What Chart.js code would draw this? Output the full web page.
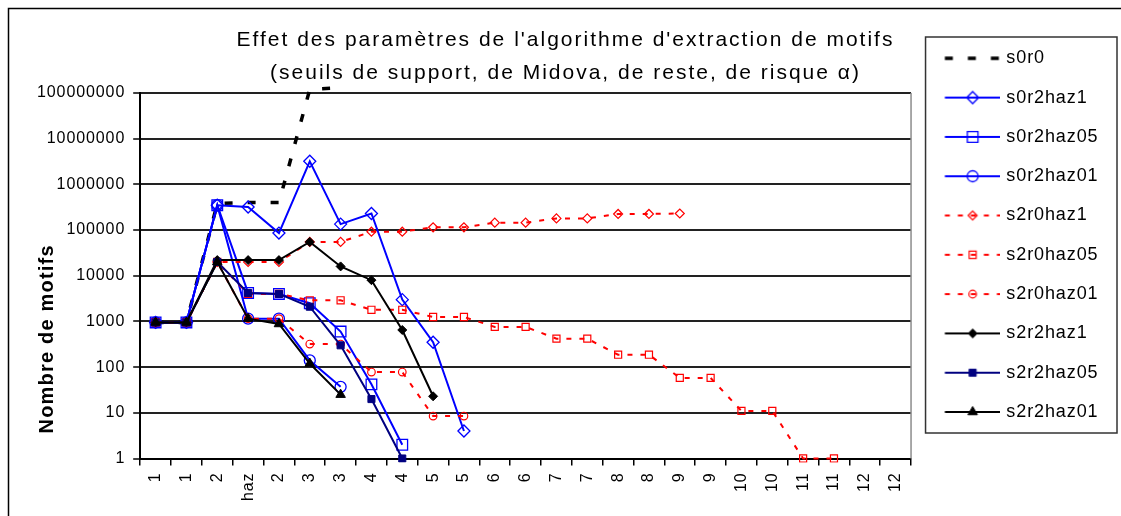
<!DOCTYPE html>
<html><head><meta charset="utf-8">
<script src="https://cdn.jsdelivr.net/npm/chart.js@4.4.1/dist/chart.umd.min.js"></script>
<style>html,body{margin:0;padding:0;background:#fff;}canvas{display:block;}</style>
</head><body>
<canvas id="c" width="1121" height="516"></canvas>
<script>
// ---------- data ----------
const categories = ['1','1','2','haz','2','3','3','4','4','5','5','6','6','7','7','8','8','9','9','10','10','11','11','12','12'];
const yTickValues = [1, 10, 100, 1000, 10000, 100000, 1000000, 10000000, 100000000];
const yTickLabels = ['1','10','100','1000','10000','100000','1000000','10000000','100000000'];
const titleLines = ["Effet des paramètres de l'algorithme d'extraction de motifs", "(seuils de support, de Midova, de reste, de risque \u03B1)"];
const yTitle = 'Nombre de motifs';
const seriesNames = ['s0r0','s0r2haz1','s0r2haz05','s0r2haz01','s2r0haz1','s2r0haz05','s2r0haz01','s2r2haz1','s2r2haz05','s2r2haz01'];

const s0r0      = [950, 950, 380000, 400000, 400000, 120000000, 130000000];
const s0r2haz1  = [950, 950, 350000, 320000, 86000, 3200000, 135000, 230000, 3000, 350, 4];
const s0r2haz05 = [950, 950, 350000, 4200, 4000, 2500, 600, 42, 2];
const s0r2haz01 = [950, 950, 350000, 1150, 1150, 140, 37];
const s2r0haz1  = [950, 950, 20000, 20000, 20000, 55000, 55000, 92000, 92000, 115000, 115000, 145000, 145000, 180000, 180000, 225000, 225000, 230000];
const s2r0haz05 = [950, 950, 20000, 4000, 4000, 2900, 2900, 1800, 1800, 1250, 1250, 760, 760, 420, 420, 187, 187, 58, 58, 11, 11, 1, 1];
const s2r0haz01 = [950, 950, 20000, 1150, 1150, 320, 320, 78, 78, 8.5, 8.5];
const s2r2haz1  = [950, 950, 22000, 22000, 22000, 55000, 16000, 8000, 650, 23];
const s2r2haz05 = [950, 950, 20000, 4200, 4000, 2100, 300, 20, 1];
const s2r2haz01 = [950, 950, 20000, 1150, 880, 120, 25];

const seriesValues = [s0r0, s0r2haz1, s0r2haz05, s0r2haz01, s2r0haz1, s2r0haz05, s2r0haz01, s2r2haz1, s2r2haz05, s2r2haz01];

// ---------- styles ----------
const FONT = '"Liberation Sans", Arial, sans-serif';
const BLUE = '#0000FF', NAVY = '#000080', RED = '#FF0000', BLACK = '#000000';
const styles = [
  {color: BLACK, width: 3.5, dash: [8, 15], point: false, radius: 0},
  {color: BLUE, width: 2, dash: [], point: 'rectRot', radius: 6, fill: 'rgba(0,0,0,0)', bw: 1.3},
  {color: BLUE, width: 2, dash: [], point: 'rect', radius: 7.5, fill: 'rgba(0,0,0,0)', bw: 1.3},
  {color: BLUE, width: 2, dash: [], point: 'circle', radius: 5.5, fill: 'rgba(0,0,0,0)', bw: 1.3},
  {color: RED, width: 2, dash: [5, 8], point: 'rectRot', radius: 4.5, fill: 'rgba(0,0,0,0)', bw: 1.2},
  {color: RED, width: 2, dash: [5, 8], point: 'rect', radius: 5, fill: 'rgba(0,0,0,0)', bw: 1.2},
  {color: RED, width: 2, dash: [5, 8], point: 'circle', radius: 3.8, fill: 'rgba(0,0,0,0)', bw: 1.2},
  {color: BLACK, width: 2, dash: [], point: 'rectRot', radius: 4.5, fill: BLACK, bw: 1},
  {color: NAVY, width: 2, dash: [], point: 'rect', radius: 5, fill: NAVY, bw: 1},
  {color: BLACK, width: 2, dash: [], point: 'triangle', radius: 5.5, fill: BLACK, bw: 1}
];

function markerPath(g, style, r, x, y) {
  g.beginPath();
  if (style === 'rectRot') {
    g.moveTo(x - r, y); g.lineTo(x, y - r); g.lineTo(x + r, y); g.lineTo(x, y + r); g.closePath();
  } else if (style === 'rect') {
    const h = r * Math.SQRT1_2; g.rect(x - h, y - h, 2 * h, 2 * h);
  } else if (style === 'circle') {
    g.arc(x, y, r, 0, Math.PI * 2); g.closePath();
  } else if (style === 'triangle') {
    for (let k = 0; k < 3; k++) {
      const a = k * 2 * Math.PI / 3;
      const px = x + Math.sin(a) * r, py = y - Math.cos(a) * r;
      if (k === 0) g.moveTo(px, py); else g.lineTo(px, py);
    }
    g.closePath();
  }
}
function makeIcon(s) {
  const c = document.createElement('canvas');
  c.width = 71; c.height = 20;
  const g = c.getContext('2d');
  g.strokeStyle = s.color; g.lineWidth = s.width; g.setLineDash(s.dash);
  g.beginPath(); g.moveTo(15.5, 10); g.lineTo(71, 10); g.stroke();
  g.setLineDash([]);
  if (s.point) {
    markerPath(g, s.point, s.radius, 43.3, 10);
    g.fillStyle = s.fill; g.fill();
    g.strokeStyle = s.color; g.lineWidth = s.bw; g.stroke();
  }
  return c;
}
const legendIcons = styles.map(makeIcon);

const datasets = seriesNames.map((name, i) => {
  const s = styles[i];
  return {
    label: name,
    data: seriesValues[i],
    borderColor: s.color,
    backgroundColor: s.color,
    borderWidth: s.width,
    borderDash: s.dash,
    pointStyle: s.point || 'circle',
    pointRadius: s.radius,
    pointHoverRadius: s.radius,
    pointBackgroundColor: s.fill || s.color,
    pointBorderColor: s.color,
    pointBorderWidth: s.bw || 0,
    fill: false,
    tension: 0,
    order: -i,
    clip: i === 0 ? 8 : 4
  };
});

// ---------- plugin: frame, legend border, y title, letter spacing ----------
const decor = {
  id: 'decor',
  beforeLayout(chart) { chart.ctx.letterSpacing = '0.9px'; },
  afterLayout(chart) {
    const t = chart.titleBlock;
    if (t) {
      t.left = 10; t.right = chart.width; t.width = t.right - t.left;
      if (!t._lsWrapped) {
        const orig = t.draw;
        t.draw = function (area) {
          const ctx = chart.ctx; ctx.save(); ctx.letterSpacing = '2px';
          orig.call(this, area); ctx.restore();
        };
        t._lsWrapped = true;
      }
    }
  },
  beforeDraw(chart) { chart.ctx.letterSpacing = '0.9px'; },
  beforeDatasetsDraw(chart) {
    const {ctx, chartArea: a} = chart;
    ctx.save();
    ctx.strokeStyle = '#8c8c8c'; ctx.lineWidth = 1.5;
    ctx.beginPath(); ctx.moveTo(a.right, a.top); ctx.lineTo(a.right, a.bottom); ctx.stroke();
    ctx.restore();
  },
  afterDraw(chart) {
    const {ctx, chartArea: a, legend} = chart;
    ctx.save();
    // outer frame
    ctx.strokeStyle = '#000'; ctx.lineWidth = 1.5;
    ctx.beginPath(); ctx.moveTo(8.5, chart.height + 2); ctx.lineTo(8.5, 8.5); ctx.lineTo(chart.width + 2, 8.5); ctx.stroke();
    // legend border
    if (legend) {
      ctx.strokeStyle = '#333'; ctx.lineWidth = 1.5;
      const x1 = legend.left + 14.5, x2 = chart.width - 4;
      const y1 = legend.top + 9, y2 = legend.top + 405;
      ctx.strokeRect(x1, y1, x2 - x1, y2 - y1);
    }
    // y axis title
    ctx.letterSpacing = '1.2px';
    ctx.font = 'bold 20px ' + FONT;
    ctx.fillStyle = '#000';
    ctx.translate(a.left - 93, a.bottom - 25);
    ctx.rotate(-Math.PI / 2);
    ctx.textAlign = 'left'; ctx.textBaseline = 'middle';
    ctx.fillText(yTitle, 0, 0);
    ctx.restore();
  }
};

new Chart(document.getElementById('c'), {
  type: 'line',
  data: {labels: categories, datasets},
  plugins: [decor],
  options: {
    responsive: false,
    animation: false,
    events: [],
    layout: {padding: {left: 29, right: 12.5, top: 28, bottom: 8}},
    plugins: {
      tooltip: {enabled: false},
      title: {
        display: true, text: titleLines, color: '#000', fullSize: false,
        font: {family: FONT, size: 21, weight: 'normal', lineHeight: 1.571},
        padding: {top: -4.5, bottom: 3.5}
      },
      legend: {
        display: true, position: 'right', align: 'start',
        labels: {
          usePointStyle: true, pointStyleWidth: 65, padding: 21.3, color: '#000',
          font: {family: FONT, size: 18},
          sort: (a, b) => a.datasetIndex - b.datasetIndex,
          generateLabels(chart) {
            const items = Chart.defaults.plugins.legend.labels.generateLabels(chart);
            items.forEach(it => { it.pointStyle = legendIcons[it.datasetIndex]; it.lineWidth = 0; });
            return items;
          }
        }
      }
    },
    scales: {
      x: {
        type: 'category',
        offset: true,
        grid: {display: true, drawOnChartArea: false, offset: true, tickLength: 7, color: '#000', lineWidth: 1.5},
        border: {display: true, color: '#000', width: 2},
        ticks: {autoSkip: false, minRotation: 90, maxRotation: 90, padding: 7, color: '#000', font: {family: FONT, size: 16}}
      },
      y: {
        type: 'logarithmic',
        min: 1, max: 100000000,
        afterBuildTicks(axis) { axis.ticks = yTickValues.map(v => ({value: v})); },
        grid: {display: true, color: '#222', lineWidth: 2, tickLength: 7, tickColor: '#000', tickWidth: 1.5},
        border: {display: true, color: '#000', width: 2},
        ticks: {
          autoSkip: false, padding: 8, color: '#000', font: {family: FONT, size: 16},
          callback: (v) => { const k = yTickValues.indexOf(v); return k >= 0 ? yTickLabels[k] : ''; }
        }
      }
    }
  }
});
</script>
</body></html>
